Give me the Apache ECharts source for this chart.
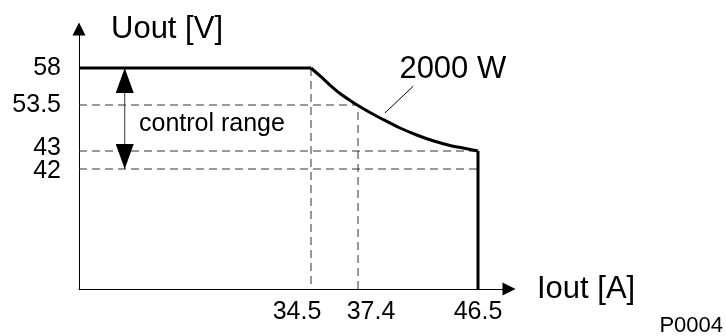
<!DOCTYPE html>
<html>
<head>
<meta charset="utf-8">
<script src="https://cdn.jsdelivr.net/npm/echarts@6/dist/echarts.min.js"></script>
<style>
  html, body { margin: 0; padding: 0; background: #fff; }
  #main { width: 726px; height: 336px; }
</style>
</head>
<body>
<div id="main"></div>
<script>
// marked values on the axes
const xTicks = [34.5, 37.4, 46.5];
const yTicks = [42, 43, 53.5, 58];

// output characteristic: constant voltage, then constant power (2000 W), then current limit
const flatI = [0, 34.5];
const flatU = [58, 58];
const curveI = [34.5, 35.06, 35.67, 36.29, 36.91, 37.4, 38.31, 39.3, 40.59, 41.85, 43.09, 44.38, 45.64, 46.5];
const curveU = [58, 57.03, 55.93, 54.9, 54.05, 53.39, 51.79, 50.19, 48.25, 46.65, 45.33, 44.26, 43.53, 43];
const limitI = [46.5, 46.5];
const limitU = [43, 0];

// control range arrow, and pointer to the 2000 W curve
const rangeI = [6.8, 6.8];
const rangeU = [58, 42];
const pointerI = [39.45, 41.6];
const pointerU = [51.7, 55.8];

// the drawing is not to scale: each axis is stretched piecewise between the marked values
const xStops = [0, 34.5, 37.4, 46.5];
const xSpan = [0, 232, 279, 399];
const yStops = [0, 42, 43, 53.5, 58];
const ySpan = [0, 120, 138, 184, 221];

function stretch(v, stops, span) {
  for (let i = 1; i < stops.length; i++) {
    if (v <= stops[i] || i === stops.length - 1) {
      let t = (v - stops[i - 1]) / (stops[i] - stops[i - 1]);
      return span[i - 1] + t * (span[i] - span[i - 1]);
    }
  }
}
const sx = v => stretch(v, xStops, xSpan);
const sy = v => stretch(v, yStops, ySpan);
const pts = (xs, ys) => xs.map((x, i) => [sx(x), sy(ys[i])]);

const font = 'Liberation Sans, Arial, sans-serif';
// in the original some tick labels are nudged off their tick
const xLabelStyle = { '34.5': 'l', '37.4': 'r', '46.5': 'c' };
const yLabelStyle = { '42': 'dn', '43': 'up', '53.5': 'c', '58': 'c' };
const labelOf = (ticks, f, styles) => val => {
  let t = ticks.find(k => Math.abs(f(k) - val) < 0.01);
  return t === undefined ? '' : '{' + styles[String(t)] + '|' + t + '}';
};
const tickText = { fontFamily: font, fontSize: 25, color: '#000' };
const yRich = {
  up: Object.assign({ padding: [0, 0, 6, 0] }, tickText),
  dn: Object.assign({ padding: [4, 0, 0, 0] }, tickText),
  c: Object.assign({}, tickText)
};
// 42 and 43 sit close together, so the y labels are split over two stacked axes
const yEven = yTicks.filter((t, i) => i % 2 === 0);
const yOdd = yTicks.filter((t, i) => i % 2 === 1);

const dashStyle = { color: '#333', width: 1, type: [8, 5] };
const dashed = data => ({
  type: 'line', data: data, symbol: 'none', silent: true,
  lineStyle: dashStyle
});

let chart = echarts.init(document.getElementById('main'));
let option = {
  animation: false,
  grid: { left: 79, top: 29, width: 430, height: 260 },
  xAxis: {
    type: 'value', min: 0, max: 430,
    name: 'Iout [A]', nameLocation: 'end', nameGap: 28,
    nameTextStyle: { fontFamily: font, fontSize: 31, color: '#000', verticalAlign: 'middle' },
    axisLine: { lineStyle: { color: '#000', width: 1 }, symbol: ['none', 'triangle'], symbolSize: [13, 13] },
    axisTick: { show: false },
    splitLine: { show: false },
    axisLabel: {
      customValues: xTicks.map(sx), margin: 11, hideOverlap: false,
      formatter: labelOf(xTicks, sx, xLabelStyle),
      rich: {
        l: Object.assign({ padding: [0, 28, 0, 0] }, tickText),
        r: Object.assign({ padding: [0, 0, 0, 26] }, tickText),
        c: Object.assign({}, tickText)
      }
    }
  },
  yAxis: [{
    type: 'value', min: 0, max: 260,
    name: 'Uout [V]', nameLocation: 'end', nameGap: 0,
    nameTextStyle: { fontFamily: font, fontSize: 31, color: '#000', align: 'left', verticalAlign: 'middle', padding: [0, 0, 0, 32] },
    axisLine: { lineStyle: { color: '#000', width: 1 }, symbol: ['none', 'triangle'], symbolSize: [13, 13] },
    axisTick: { show: false },
    splitLine: { show: false },
    axisLabel: {
      customValues: yEven.map(sy), margin: 18, hideOverlap: false,
      formatter: labelOf(yTicks, sy, yLabelStyle),
      rich: yRich
    }
  }, {
    type: 'value', min: 0, max: 260, position: 'left', offset: 0,
    axisLine: { show: false },
    axisTick: { show: false },
    splitLine: { show: false },
    axisLabel: {
      customValues: yOdd.map(sy), margin: 18, hideOverlap: false,
      formatter: labelOf(yTicks, sy, yLabelStyle),
      rich: yRich
    }
  }],
  graphic: [
    { type: 'text', left: 139, top: 112, style: { text: 'control range', font: '25px ' + font, fill: '#000' } },
    { type: 'text', right: 3, top: 315, style: { text: 'P0004', font: '22px ' + font, fill: '#000' } }
  ],
  series: [
    dashed(pts([34.5, 34.5], [58, 0])),
    dashed(pts([0, 37.4, 37.4], [53.5, 53.5, 0])),
    dashed(pts([0, 46.5], [43, 43])),
    dashed(pts([0, 46.5], [42, 42])),
    {
      type: 'line', silent: true,
      data: pts(rangeI, rangeU).map((p, i) => ({
        value: p,
        symbol: 'triangle',
        symbolSize: [18, 25],
        symbolRotate: i === 0 ? 0 : 180,
        symbolOffset: [0, i === 0 ? 12.5 : -12.5]
      })),
      lineStyle: { color: '#333', width: 1 },
      itemStyle: { color: '#000' }
    },
    {
      type: 'line', data: pts(pointerI, pointerU), symbol: 'none', silent: true,
      lineStyle: { color: '#000', width: 1 },
      endLabel: {
        show: true, formatter: '2000 W', fontFamily: font, fontSize: 31, color: '#000',
        offset: [-22, -17]
      }
    },
    {
      type: 'line', data: pts(flatI, flatU), symbol: 'none', silent: true,
      lineStyle: { color: '#000', width: 3 }
    },
    {
      type: 'line', data: pts(curveI, curveU), symbol: 'none', silent: true,
      smooth: 0.3,
      lineStyle: { color: '#000', width: 3 }
    },
    {
      type: 'line', data: pts(limitI, limitU), symbol: 'none', silent: true,
      lineStyle: { color: '#000', width: 3 }
    }
  ]
};
chart.setOption(option);
window.addEventListener('resize', chart.resize);
</script>
</body>
</html>
